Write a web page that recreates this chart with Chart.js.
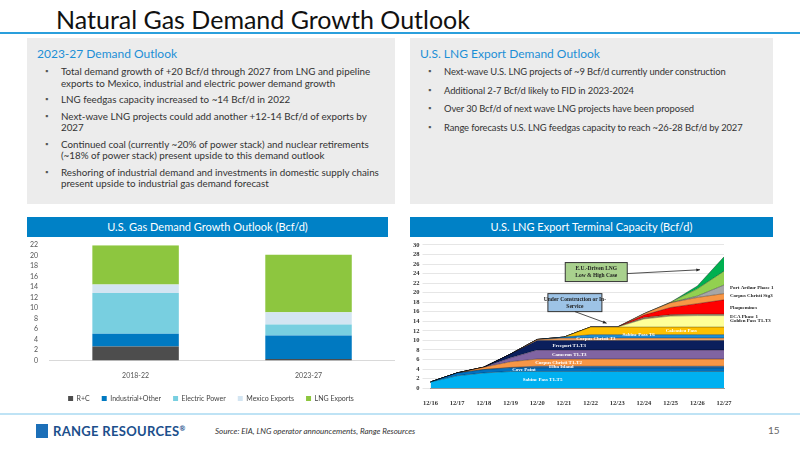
<!DOCTYPE html>
<html>
<head>
<meta charset="utf-8">
<script src="https://cdn.jsdelivr.net/npm/chart.js@4"></script>
<style>
  body { margin: 0; width: 800px; height: 450px; background: #fff; font-family: Lato, "Open Sans", sans-serif; position: relative; overflow: hidden; }
  .title { position: absolute; left: 56px; top: 4px; font-size: 25px; color: #111; }
  .rule { position: absolute; left: 0; top: 32px; width: 800px; height: 2px; background: #2a9fdc; }
  .panel { position: absolute; top: 38px; height: 166px; background: #ececec; box-sizing: border-box; padding: 8px 10px; }
  .panel h3 { margin: 0 0 5px 0; font-weight: normal; font-size: 12px; color: #1c8fd6; }
  .panel ul { margin: 0; padding: 0 0 0 14px; list-style: none; }
  .panel li { font-size: 9.8px; line-height: 11.5px; color: #333; margin-bottom: 5px; position: relative; padding-left: 10px; }
  .panel.r li { font-size: 9.4px; letter-spacing: -0.1px; margin-bottom: 7px; }
  .panel li:before { content: "\25AA"; position: absolute; left: -6px; font-size: 8px; color: #555; }
  .bar { position: absolute; top: 217px; height: 20px; background: #0081c6; color: #fff; font-size: 11px; text-align: center; line-height: 20px; }
  .wrap { position: absolute; top: 238px; }
  .sep { position: absolute; top: 413px; left: 0; width: 800px; height: 2px; background: #bfe3f5; }
  .logo { position: absolute; left: 36px; top: 423px; font-size: 13px; font-weight: bold; color: #1c4f8c; letter-spacing: 0.3px; }
  .logo span { display: inline-block; width: 12px; height: 14px; background: #1c6fb8; margin-right: 5px; vertical-align: -2px; }
  .src { position: absolute; left: 215px; top: 426px; font-size: 8px; font-style: italic; color: #333; }
  .page { position: absolute; left: 768px; top: 424px; font-size: 10px; color: #666; }
</style>
</head>
<body>
<div class="title">Natural Gas Demand Growth Outlook</div>
<div class="rule"></div>
<div class="panel" style="left:27px;width:368px;">
  <h3>2023-27 Demand Outlook</h3>
  <ul>
    <li>Total demand growth of +20 Bcf/d through 2027 from LNG and pipeline exports to Mexico, industrial and electric power demand growth</li>
    <li>LNG feedgas capacity increased to ~14 Bcf/d in 2022</li>
    <li>Next-wave LNG projects could add another +12-14 Bcf/d of exports by 2027</li>
    <li>Continued coal (currently ~20% of power stack) and nuclear retirements (~18% of power stack) present upside to this demand outlook</li>
    <li>Reshoring of industrial demand and investments in domestic supply chains present upside to industrial gas demand forecast</li>
  </ul>
</div>
<div class="panel r" style="left:410px;width:363px;">
  <h3>U.S. LNG Export Demand Outlook</h3>
  <ul>
    <li>Next-wave U.S. LNG projects of ~9 Bcf/d currently under construction</li>
    <li>Additional 2-7 Bcf/d likely to FID in 2023-2024</li>
    <li>Over 30 Bcf/d of next wave LNG projects have been proposed</li>
    <li>Range forecasts U.S. LNG feedgas capacity to reach ~26-28 Bcf/d by 2027</li>
  </ul>
</div>
<div class="bar" style="left:27px;width:361px;">U.S. Gas Demand Growth Outlook (Bcf/d)</div>
<div class="bar" style="left:410px;width:363px;">U.S. LNG Export Terminal Capacity (Bcf/d)</div>
<div class="wrap" style="left:27px;width:368px;height:174px;"><canvas id="demand"></canvas></div>
<div class="wrap" style="left:410px;width:380px;height:172px;"><canvas id="lng"></canvas></div>
<div class="sep"></div>
<div class="logo"><span></span>RANGE RESOURCES<sup style="font-size:7px">&reg;</sup></div>
<div class="src">Source: EIA, LNG operator announcements, Range Resources</div>
<div class="page">15</div>
<script>
// left chart data
const periods = ["2018-22", "2023-27"];
const rc = [2.7, 0.3];
const industrial = [2.4, 4.5];
const electric = [7.8, 2.1];
const mexico = [1.6, 2.3];
const lngExports = [7.5, 11.0];

// right chart data
const years = ["12/16", "12/17", "12/18", "12/19", "12/20", "12/21", "12/22", "12/23", "12/24", "12/25", "12/26", "12/27"];
const sabine15 = [1.3, 2.6, 3.2, 3.5, 3.5, 3.5, 3.5, 3.5, 3.5, 3.5, 3.5, 3.5];
const covePoint = [0, 0.6, 0.7, 0.75, 0.75, 0.75, 0.75, 0.75, 0.75, 0.75, 0.75, 0.75];
const elba = [0, 0, 0, 0.1, 0.35, 0.35, 0.35, 0.35, 0.35, 0.35, 0.35, 0.35];
const corpus12 = [0, 0, 0.5, 1.2, 1.5, 1.5, 1.5, 1.5, 1.5, 1.5, 1.5, 1.5];
const cameron = [0, 0, 0, 0.8, 1.9, 1.9, 1.9, 1.9, 1.9, 1.9, 1.9, 1.9];
const freeport = [0, 0, 0, 0.8, 2.0, 2.0, 2.0, 2.0, 2.0, 2.0, 2.0, 2.0];
const corpus3 = [0, 0, 0, 0, 0.2, 0.5, 0.5, 0.5, 0.5, 0.5, 0.5, 0.5];
const sabine6 = [0, 0, 0, 0, 0, 0.2, 0.7, 0.7, 0.7, 0.7, 0.7, 0.7];
const calcasieu = [0, 0, 0, 0, 0, 0, 1.6, 1.6, 1.6, 1.6, 1.6, 1.6];
const goldenPass = [0, 0, 0, 0, 0, 0, 0, 0, 1.7, 2.3, 2.4, 2.4];
const ecaPhase1 = [0, 0, 0, 0, 0, 0, 0, 0, 0.3, 0.3, 0.3, 0.3];
const plaquemines = [0, 0, 0, 0, 0, 0, 0, 0, 0.5, 1.5, 2.2, 3.0];
const corpusStg3 = [0, 0, 0, 0, 0, 0, 0, 0, 0.3, 1.0, 1.3, 1.3];
const portArthur = [0, 0, 0, 0, 0, 0, 0, 0, 0, 0, 0.3, 1.8];
const euLow = [0, 0, 0, 0, 0, 0, 0, 0, 0, 0.1, 1.5, 2.9];
const euHigh = [0, 0, 0, 0, 0, 0, 0, 0, 0, 0, 0.6, 3.0];

const tick = { color: "#555", font: { size: 7, family: "Lato" } };

new Chart(document.getElementById("demand"), {
  type: "bar",
  data: {
    labels: periods,
    datasets: [
      { label: "R+C", data: rc, backgroundColor: "#4d4d4d" },
      { label: "Industrial+Other", data: industrial, backgroundColor: "#0079c1" },
      { label: "Electric Power", data: electric, backgroundColor: "#78cfe0" },
      { label: "Mexico Exports", data: mexico, backgroundColor: "#d3e5f2" },
      { label: "LNG Exports", data: lngExports, backgroundColor: "#8dc63f" }
    ]
  },
  options: {
    responsive: true,
    maintainAspectRatio: false,
    animation: false,
    barPercentage: 0.5,
    categoryPercentage: 1,
    plugins: {
      legend: {
        position: "bottom",
        labels: { boxWidth: 5, boxHeight: 5, font: { size: 7, family: "Lato" }, color: "#444", padding: 12 }
      },
      tooltip: { enabled: false }
    },
    scales: {
      x: { stacked: true, grid: { display: false }, border: { color: "#d9d9d9" }, ticks: tick },
      y: { stacked: true, min: 0, max: 22, ticks: { ...tick, stepSize: 2, autoSkip: false }, grid: { display: false }, border: { display: false } }
    }
  }
});

const layers = [
  ["Sabine Pass T1-T5", sabine15, "#00b0f0"],
  ["Cove Point", covePoint, "#0070c0"],
  ["Elba Island", elba, "#2e75b6"],
  ["Corpus Christi T1-T2", corpus12, "#f79646"],
  ["Cameron T1-T3", cameron, "#8064a2"],
  ["Freeport T1-T3", freeport, "#0b1f5c"],
  ["Corpus Christi T3", corpus3, "#f4a460"],
  ["Sabine Pass T6", sabine6, "#1f8fd6"],
  ["Calcasieu Pass", calcasieu, "#ffc000"],
  ["Golden Pass T1-T3", goldenPass, "#ffff99"],
  ["ECA Phase 1", ecaPhase1, "#a5845a"],
  ["Plaquemines", plaquemines, "#ff0000"],
  ["Corpus Christi Stg3", corpusStg3, "#f79646"],
  ["Port Arthur Phase 1", portArthur, "#a6a6a6"],
  ["EU Low", euLow, "#92d050"],
  ["EU High", euHigh, "#00b050"]
];

// labels drawn inside the areas: [text, x index, y value]
const innerLabels = [
  ["Sabine Pass T1-T5", 4.2, 1.7],
  ["Cove Point", 3.5, 3.9],
  ["Elba Island", 4.9, 4.45],
  ["Corpus Christi T1-T2", 4.8, 5.3],
  ["Cameron T1-T3", 5.2, 7.0],
  ["Freeport T1-T3", 5.2, 8.9],
  ["Corpus Christi T3", 6.2, 10.4],
  ["Sabine Pass T6", 7.8, 11.2],
  ["Calcasieu Pass", 9.4, 12.1]
];
const sideLabels = [
  ["Port Arthur Phase 1", 21.0],
  ["Corpus Christi Stg3", 19.3],
  ["Plaquemines", 16.8],
  ["ECA Phase 1", 15.0],
  ["Golden Pass T1-T3", 14.1]
];

const px = (x, i) => {
  const a = Math.floor(i), b = Math.min(a + 1, years.length - 1);
  const pa = x.getPixelForValue(a), pb = x.getPixelForValue(b);
  return pa + (pb - pa) * (i - a);
};

const drawBox = (ctx, x0, y0, w, h, fill, lines) => {
  ctx.fillStyle = fill;
  ctx.fillRect(x0, y0, w, h);
  ctx.strokeStyle = "#333";
  ctx.lineWidth = 1;
  ctx.strokeRect(x0, y0, w, h);
  ctx.fillStyle = "#222";
  ctx.font = "bold 5.5px 'Liberation Serif'";
  ctx.textAlign = "center";
  lines.forEach((t, k) => ctx.fillText(t, x0 + w / 2, y0 + h / 2 + (k - (lines.length - 1) / 2) * 7));
};

const arrow = (ctx, x1, y1, x2, y2) => {
  ctx.strokeStyle = "#222";
  ctx.fillStyle = "#222";
  ctx.lineWidth = 0.8;
  ctx.beginPath(); ctx.moveTo(x1, y1); ctx.lineTo(x2, y2); ctx.stroke();
  const ang = Math.atan2(y2 - y1, x2 - x1);
  ctx.beginPath();
  ctx.moveTo(x2, y2);
  ctx.lineTo(x2 - 4 * Math.cos(ang - 0.4), y2 - 4 * Math.sin(ang - 0.4));
  ctx.lineTo(x2 - 4 * Math.cos(ang + 0.4), y2 - 4 * Math.sin(ang + 0.4));
  ctx.fill();
};

const lngLabels = {
  id: "lngLabels",
  afterDatasetsDraw(chart) {
    const { ctx, scales: { x, y }, chartArea } = chart;
    ctx.save();
    ctx.textBaseline = "middle";
    ctx.font = "bold 5px 'Liberation Serif'";
    ctx.textAlign = "center";
    innerLabels.forEach(([t, i, v]) => {
      ctx.fillStyle = "#fff";
      ctx.fillText(t, px(x, i), y.getPixelForValue(v));
    });
    ctx.textAlign = "left";
    ctx.fillStyle = "#222";
    sideLabels.forEach(([t, v]) => ctx.fillText(t, chartArea.right + 6, y.getPixelForValue(v)));

    const ex = px(x, 5.05), ey = y.getPixelForValue(26.3);
    drawBox(ctx, ex, ey, 62, 19, "#a9d18e", ["E.U.-Driven LNG", "Low & High Case"]);
    arrow(ctx, ex + 62, ey + 11, px(x, 10.1), y.getPixelForValue(24.8));
    const ux = px(x, 4.4), uy = y.getPixelForValue(19.8);
    drawBox(ctx, ux, uy, 54, 18, "#9dc3e6", ["Under Construction or In-", "Service"]);
    arrow(ctx, ux + 27, uy + 18, px(x, 6.6), y.getPixelForValue(13.6));
    ctx.restore();
  }
};

new Chart(document.getElementById("lng"), {
  type: "line",
  data: {
    labels: years,
    datasets: layers.map(([label, data, color], k) => ({
      label, data,
      backgroundColor: color,
      borderColor: "rgba(0,0,0,0.55)",
      borderWidth: 0.6,
      fill: k === 0 ? "origin" : "-1",
      pointRadius: 0,
      tension: 0
    }))
  },
  options: {
    responsive: true,
    maintainAspectRatio: false,
    animation: false,
    layout: { padding: { right: 66, top: 4 } },
    plugins: { legend: { display: false }, tooltip: { enabled: false } },
    scales: {
      x: { offset: false, grid: { display: false }, border: { color: "#999" },
           ticks: { color: "#333", font: { size: 6.5, weight: "bold", family: "Liberation Serif" }, maxRotation: 0, autoSkip: false } },
      y: { stacked: true, min: 0, max: 30,
           ticks: { stepSize: 2, autoSkip: false, color: "#333", font: { size: 6.5, weight: "bold", family: "Liberation Serif" } },
           grid: { color: "#e6e6e6" }, border: { display: false } }
    }
  },
  plugins: [lngLabels]
});
</script>
</body>
</html>
